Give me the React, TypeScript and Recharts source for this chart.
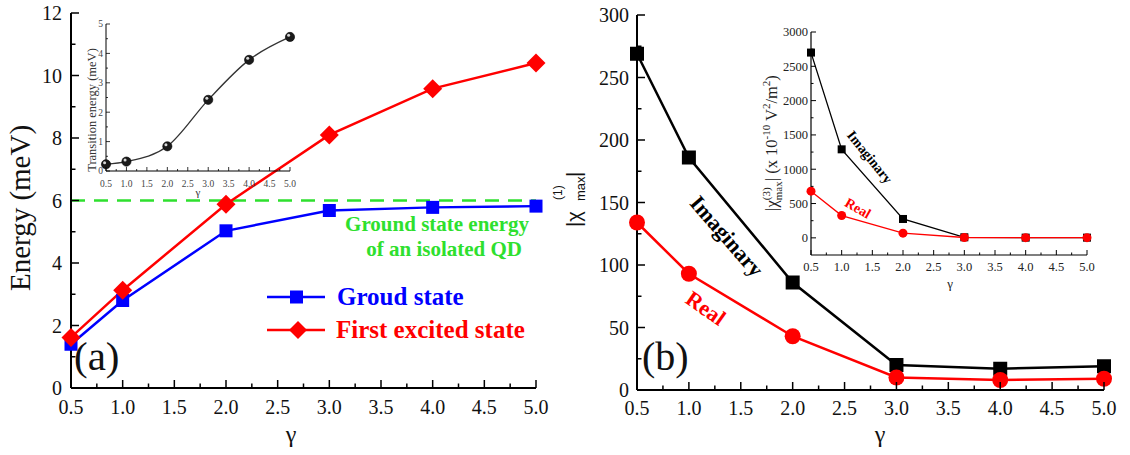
import React from 'react'
import {LineChart, Line, XAxis, YAxis, ReferenceLine} from 'recharts'

// gamma values where the energies / susceptibilities were computed
const gamma = [0.5, 1, 2, 3, 4, 5]

// panel (a)
const groundState = [1.4, 2.8, 5.03, 5.68, 5.78, 5.82]
const firstExcited = [1.62, 3.13, 5.88, 8.1, 9.58, 10.4]
const transitionEnergy = [0.23, 0.32, 0.84, 2.42, 3.78, 4.56]
const isolatedQD = 6

// panel (b)
const chi1Imaginary = [269, 186, 86, 20, 17, 19]
const chi1Real = [134, 93, 43, 10, 8, 9]
const chi3Imaginary = [2700, 1290, 275, 8, 3, 3]
const chi3Real = [680, 325, 68, 5, 3, 3]

// ticks
const gammaMajor = [0.5, 1, 1.5, 2, 2.5, 3, 3.5, 4, 4.5, 5]
const gammaMinor = [0.75, 1.25, 1.75, 2.25, 2.75, 3.25, 3.75, 4.25, 4.75]
const energyMajor = [0, 2, 4, 6, 8, 10, 12]
const energyMinor = [1, 3, 5, 7, 9, 11]
const transMajor = [0, 1, 2, 3, 4, 5]
const transMinor = [0.5, 1.5, 2.5, 3.5, 4.5]
const chi1Major = [0, 50, 100, 150, 200, 250, 300]
const chi1Minor = [25, 75, 125, 175, 225, 275]
const chi3Major = [0, 500, 1000, 1500, 2000, 2500, 3000]
const chi3Minor = [250, 750, 1250, 1750, 2250, 2750]

const serif = 'Liberation Serif'
const sans = 'Liberation Sans'

const leftRows = gamma.map((g, i) => ({gamma: g, ground: groundState[i], excited: firstExcited[i], transition: transitionEnergy[i]}))
const rightRows = gamma.map((g, i) => ({gamma: g, imag1: chi1Imaginary[i], real1: chi1Real[i], imag3: chi3Imaginary[i], real3: chi3Real[i]}))

const merge = (a, b) => [...a, ...b].sort((p, q) => p - q)
const has = (list, v) => list.some(m => Math.abs(m - v) < 1e-9)

const xTick = (majors, o) => (props) => {
  const {x, y, payload} = props
  const v = payload.value
  const isMajor = has(majors, v)
  return (
    <g>
      <line x1={x} x2={x} y1={y} y2={y - (isMajor ? o.major : o.minor)} stroke="#000" strokeWidth={o.width} />
      {isMajor && (
        <text x={x} y={y + o.dy} textAnchor="middle" fontSize={o.fontSize} style={{fontFamily: serif}} fill={o.color}>
          {v.toFixed(1)}
        </text>
      )}
    </g>
  )
}

const yTick = (majors, o) => (props) => {
  const {x, y, payload} = props
  const v = payload.value
  const isMajor = has(majors, v)
  return (
    <g>
      <line x1={x} x2={x + (isMajor ? o.major : o.minor)} y1={y} y2={y} stroke="#000" strokeWidth={o.width} />
      {isMajor && (
        <text x={x - o.gap} y={y + o.fontSize * 0.35} textAnchor="end" fontSize={o.fontSize} style={{fontFamily: serif}} fill={o.color}>
          {v}
        </text>
      )}
    </g>
  )
}

const square = (size, fill) => (p) =>
  p.cx == null ? null : <rect key={`s${p.index}`} x={p.cx - size / 2} y={p.cy - size / 2} width={size} height={size} fill={fill} />

const diamond = (r, fill) => (p) =>
  p.cx == null ? null : (
    <polygon key={`d${p.index}`} points={`${p.cx},${p.cy - r} ${p.cx + r},${p.cy} ${p.cx},${p.cy + r} ${p.cx - r},${p.cy}`} fill={fill} />
  )

const circle = (r, fill) => (p) =>
  p.cx == null ? null : <circle key={`c${p.index}`} cx={p.cx} cy={p.cy} r={r} fill={fill} />

const sphere = (p) =>
  p.cx == null ? null : (
    <g key={`b${p.index}`}>
      <circle cx={p.cx} cy={p.cy} r={4.6} fill="#1a1a1a" stroke="#000" strokeWidth={0.6} />
      <circle cx={p.cx - 1.4} cy={p.cy - 1.6} r={1.5} fill="#d8d8d8" />
    </g>
  )

const frame = (w) => ({stroke: '#000', strokeWidth: w})

const mainX = xTick(gammaMajor, {major: 8, minor: 4.5, width: 1.5, fontSize: 20, dy: 26, color: '#111'})
const mainXb = xTick(gammaMajor, {major: 8, minor: 4.5, width: 1.5, fontSize: 20, dy: 25, color: '#111'})
const insetLX = xTick(gammaMajor, {major: 4, minor: 2, width: 0.8, fontSize: 9.5, dy: 15.5, color: '#444'})
const insetRX = xTick(gammaMajor, {major: 5, minor: 2.5, width: 1, fontSize: 12.5, dy: 16, color: '#222'})

const EnergyPanel = () => (
  <LineChart width={560} height={455} data={leftRows} margin={{top: 13, right: 24, left: 0, bottom: 0}}>
    <XAxis dataKey="gamma" type="number" domain={[0.5, 5]} ticks={merge(gammaMajor, gammaMinor)} interval={0}
      height={67} tickSize={0} tickMargin={0} tickLine={false} axisLine={frame(2)} tick={mainX} />
    <XAxis xAxisId="top" orientation="top" type="number" domain={[0.5, 5]} height={0} tick={false} tickLine={false} axisLine={frame(2)} />
    <YAxis type="number" domain={[0, 12]} ticks={merge(energyMajor, energyMinor)} interval={0} width={71}
      tickSize={0} tickMargin={0} tickLine={false} axisLine={frame(2)}
      tick={yTick(energyMajor, {major: 8, minor: 4.5, width: 1.5, fontSize: 20, gap: 9, color: '#111'})} />
    <YAxis yAxisId="right" orientation="right" domain={[0, 12]} width={0} tick={false} tickLine={false} axisLine={frame(2)} />
    <ReferenceLine y={isolatedQD} stroke="#2ee02e" strokeWidth={2.5} strokeDasharray="14 9" />
    <Line dataKey="ground" stroke="#0000ff" strokeWidth={2.5} dot={square(13, '#0000ff')} isAnimationActive={false} />
    <Line dataKey="excited" stroke="#ff0000" strokeWidth={2.5} dot={diamond(9.5, '#ff0000')} isAnimationActive={false} />
  </LineChart>
)

const TransitionInset = () => (
  <LineChart width={240} height={190} data={leftRows} margin={{top: 10, right: 10, left: 0, bottom: 0}}>
    <XAxis dataKey="gamma" type="number" domain={[0.5, 5]} ticks={merge(gammaMajor, gammaMinor)} interval={0}
      height={33} tickSize={0} tickMargin={0} tickLine={false} axisLine={frame(1)} tick={insetLX} />
    <XAxis xAxisId="top" orientation="top" type="number" domain={[0.5, 5]} height={0} tick={false} tickLine={false} axisLine={frame(1)} />
    <YAxis type="number" domain={[0, 5]} ticks={merge(transMajor, transMinor)} interval={0} width={46}
      tickSize={0} tickMargin={0} tickLine={false} axisLine={frame(1)}
      tick={yTick(transMajor, {major: 4, minor: 2, width: 0.8, fontSize: 9.5, gap: 3, color: '#444'})} />
    <YAxis yAxisId="right" orientation="right" domain={[0, 5]} width={0} tick={false} tickLine={false} axisLine={frame(1)} />
    <Line dataKey="transition" type="monotone" stroke="#333" strokeWidth={1.3} dot={sphere} isAnimationActive={false} />
  </LineChart>
)

const ChiPanel = () => (
  <LineChart width={570} height={455} data={rightRows} margin={{top: 15, right: 26, left: 0, bottom: 0}}>
    <XAxis dataKey="gamma" type="number" domain={[0.5, 5]} ticks={merge(gammaMajor, gammaMinor)} interval={0}
      height={65} tickSize={0} tickMargin={0} tickLine={false} axisLine={frame(2)} tick={mainXb} />
    <XAxis xAxisId="top" orientation="top" type="number" domain={[0.5, 5]} height={0} tick={false} tickLine={false} axisLine={frame(2)} />
    <YAxis type="number" domain={[0, 300]} ticks={merge(chi1Major, chi1Minor)} interval={0} width={77}
      tickSize={0} tickMargin={0} tickLine={false} axisLine={frame(2)}
      tick={yTick(chi1Major, {major: 8, minor: 4.5, width: 1.5, fontSize: 20, gap: 8, color: '#111'})} />
    <YAxis yAxisId="right" orientation="right" domain={[0, 300]} width={0} tick={false} tickLine={false} axisLine={frame(2)} />
    <Line dataKey="imag1" stroke="#000" strokeWidth={2.5} dot={square(14, '#000')} isAnimationActive={false} />
    <Line dataKey="real1" stroke="#ff0000" strokeWidth={2.5} dot={circle(8, '#ff0000')} isAnimationActive={false} />
  </LineChart>
)

const Chi3Inset = () => (
  <LineChart width={340} height={270} data={rightRows} margin={{top: 10, right: 13, left: 0, bottom: 0}}>
    <XAxis dataKey="gamma" type="number" domain={[0.5, 5]} ticks={merge(gammaMajor, gammaMinor)} interval={0}
      height={37} tickSize={0} tickMargin={0} tickLine={false} axisLine={frame(1.2)} tick={insetRX} />
    <XAxis xAxisId="top" orientation="top" type="number" domain={[0.5, 5]} height={0} tick={false} tickLine={false} axisLine={frame(1.2)} />
    <YAxis type="number" domain={[-250, 3000]} ticks={merge(chi3Major, chi3Minor)} interval={0} width={51}
      tickSize={0} tickMargin={0} tickLine={false} axisLine={frame(1.2)}
      tick={yTick(chi3Major, {major: 5, minor: 2.5, width: 1, fontSize: 12.5, gap: 3, color: '#222'})} />
    <YAxis yAxisId="right" orientation="right" domain={[-250, 3000]} width={0} tick={false} tickLine={false} axisLine={frame(1.2)} />
    <Line dataKey="imag3" stroke="#000" strokeWidth={1.3} dot={square(8, '#000')} isAnimationActive={false} />
    <Line dataKey="real3" stroke="#ff0000" strokeWidth={1.3} dot={circle(4.5, '#ff0000')} isAnimationActive={false} />
  </LineChart>
)

const T = ({style = {}, ...rest}) => <text style={{fontFamily: serif, ...style}} {...rest} />

const Annotations = () => (
  <svg width={1130} height={455} style={{position: 'absolute', left: 0, top: 0, pointerEvents: 'none'}}>
    <T transform="translate(30,208) rotate(-90)" textAnchor="middle" fontSize={29} fill="#111">Energy (meV)</T>
    <T x={291} y={442} textAnchor="middle" fontSize={24} fill="#111">γ</T>
    <T x={880} y={442} textAnchor="middle" fontSize={24} fill="#111">γ</T>
    <T x={74} y={370} fontSize={41} fill="#111">(a)</T>
    <T x={642} y={370} fontSize={40} fill="#111">(b)</T>

    <T x={529} y={231} textAnchor="end" fontSize={21} fontWeight="bold" fill="#2ee02e">Ground state energy</T>
    <T x={522} y={256} textAnchor="end" fontSize={21} fontWeight="bold" fill="#2ee02e">of an isolated QD</T>

    <line x1={267} x2={325} y1={297} y2={297} stroke="#0000ff" strokeWidth={2.5} />
    <rect x={290} y={290.5} width={13} height={13} fill="#0000ff" />
    <T x={337} y={305} fontSize={25} fontWeight="bold" fill="#0000ff">Groud state</T>
    <line x1={267} x2={325} y1={330} y2={330} stroke="#ff0000" strokeWidth={2.5} />
    <polygon points="298,321 307,330 298,339 289,330" fill="#ff0000" />
    <T x={336} y={338} fontSize={25} fontWeight="bold" fill="#ff0000">First excited state</T>

    <T transform="translate(727,236) rotate(49)" textAnchor="middle" dy="0.35em" fontSize={22} fontWeight="bold" fill="#000">Imaginary</T>
    <T transform="translate(706,308) rotate(35)" textAnchor="middle" dy="0.35em" fontSize={22} fontWeight="bold" fill="#ff0000">Real</T>
    <T transform="translate(870,157) rotate(51)" textAnchor="middle" dy="0.35em" fontSize={14} fontWeight="bold" fill="#000">Imaginary</T>
    <T transform="translate(858,208) rotate(30)" textAnchor="middle" dy="0.35em" fontSize={14} fontWeight="bold" fill="#ff0000">Real</T>

    <T transform="translate(96,110) rotate(-90)" textAnchor="middle" fontSize={12.5} fill="#333">Transition energy (meV)</T>
    <T x={198} y={196} textAnchor="middle" fontSize={11} fill="#333">γ</T>
    <T x={950} y={288} textAnchor="middle" fontSize={13} fill="#222">γ</T>

    <T transform="translate(777,143) rotate(-90)" textAnchor="middle" fontSize={16.5} fill="#222">
      <tspan>|χ</tspan>
      <tspan dy={-7} fontSize={11}>(3)</tspan>
      <tspan dx={-12.8} dy={12} fontSize={11}>max</tspan>
      <tspan dy={-5}>| (x 10</tspan>
      <tspan dy={-7} fontSize={11}>-10</tspan>
      <tspan dy={7}> V</tspan>
      <tspan dy={-7} fontSize={11}>2</tspan>
      <tspan dy={7}>/m</tspan>
      <tspan dy={-7} fontSize={11}>2</tspan>
      <tspan dy={7}>)</tspan>
    </T>

    <g transform="translate(581,227) rotate(-90)" fill="#111">
      <text x={0} y={0} fontSize={20} style={{fontFamily: sans}}>|χ</text>
      <text x={27} y={-19} fontSize={12} style={{fontFamily: sans}}>(1)</text>
      <text x={26} y={4} fontSize={13} style={{fontFamily: sans}}>max</text>
      <text x={50} y={0} fontSize={20} style={{fontFamily: sans}}>|</text>
    </g>
  </svg>
)

export default function App() {
  return (
    <div style={{position: 'fixed', left: 0, top: 0, width: 1130, height: 455, background: '#fff', overflow: 'hidden'}}>
      <div style={{position: 'absolute', left: 0, top: 0}}><EnergyPanel /></div>
      <div style={{position: 'absolute', left: 560, top: 0}}><ChiPanel /></div>
      <div style={{position: 'absolute', left: 60, top: 14}}><TransitionInset /></div>
      <div style={{position: 'absolute', left: 760, top: 22}}><Chi3Inset /></div>
      <Annotations />
    </div>
  )
}
